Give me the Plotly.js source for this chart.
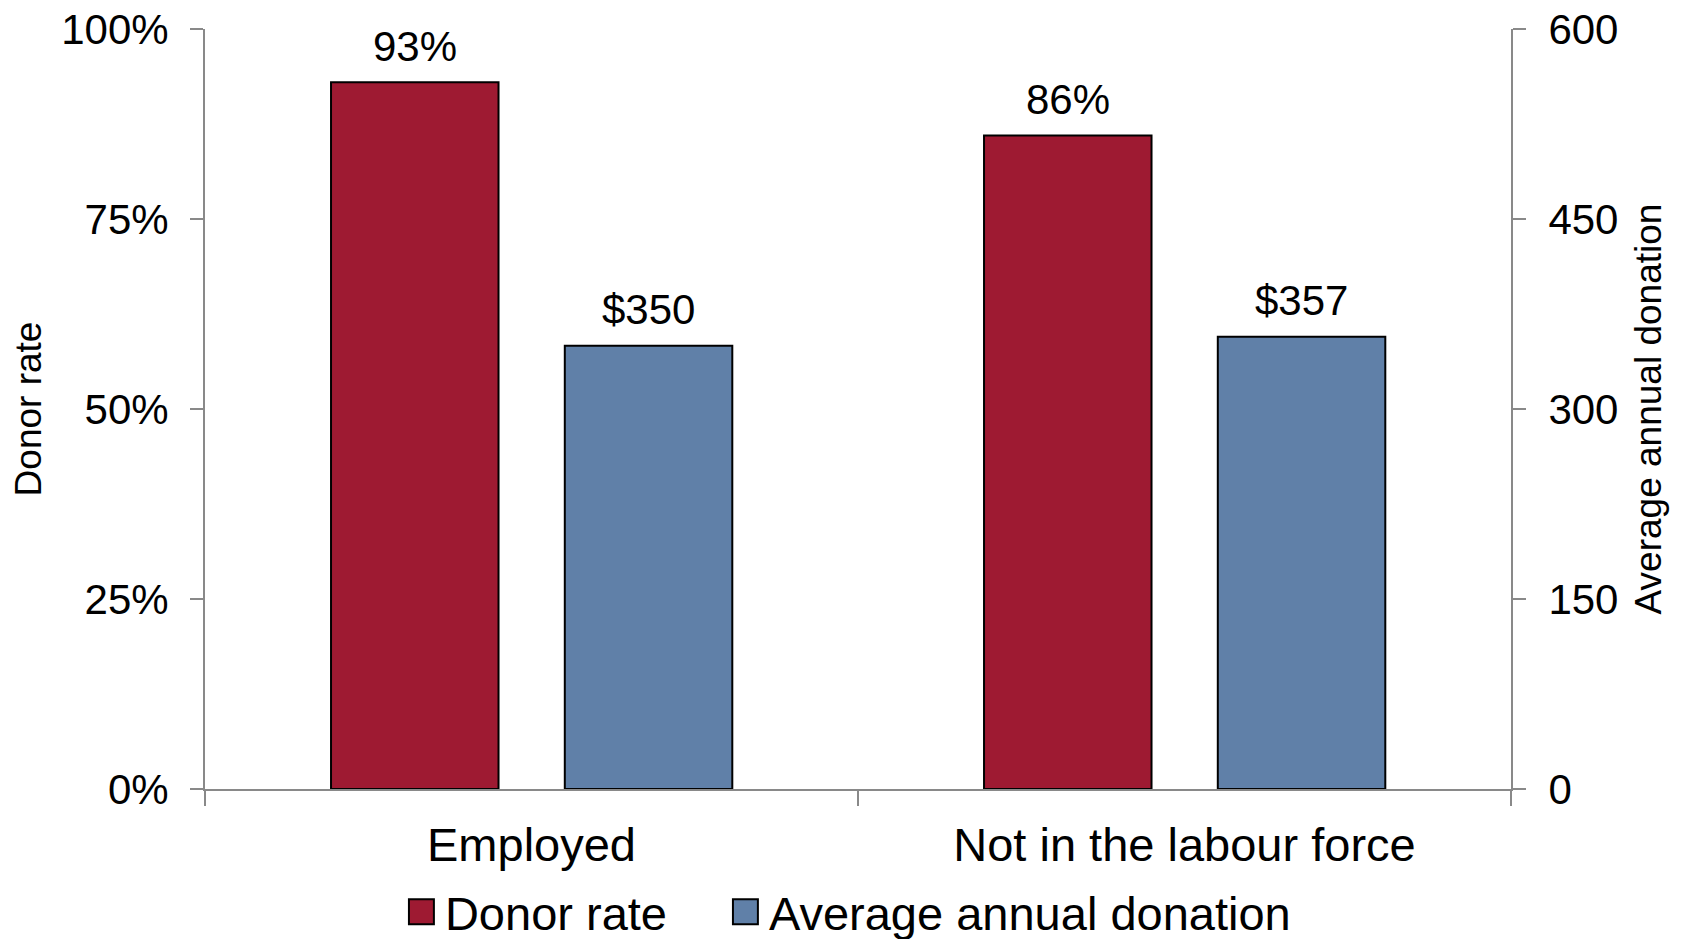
<!DOCTYPE html>
<html>
<head>
<meta charset="utf-8">
<script src="https://cdn.plot.ly/plotly-3.0.1.min.js"></script>
<style>html,body{margin:0;padding:0;background:#fff;}#chart{width:1683px;height:939px;}</style>
</head>
<body>
<div id="chart"></div>
<script>
const categories = ["Employed", "Not in the labour force"];
const donorRate = [0.93, 0.86];
const donorRateLabels = ["93%", "86%"];
const avgDonation = [350, 357];
const avgDonationLabels = ["$350", "$357"];
const leftTicks = [0, 0.25, 0.5, 0.75, 1.0];
const leftTickLabels = ["0%", "25%", "50%", "75%", "100%"];
const rightTicks = [0, 150, 300, 450, 600];
const rightTickLabels = ["0", "150", "300", "450", "600"];

const FONT = "Liberation Sans, Arial, sans-serif";
const AXIS_GREY = "#898989";
const RED = "#9E1A32";
const BLUE = "#6080A8";

const traces = [
  {
    type: "bar", name: "Donor rate", x: categories, y: donorRate,
    yaxis: "y", legendwidth: 279,
    marker: {color: RED, line: {color: "#000", width: 2}},
    width: 0.2565, offset: -0.307, hoverinfo: "skip"
  },
  {
    type: "bar", name: "Average annual donation", x: categories, y: avgDonation,
    yaxis: "y2", legendwidth: 545,
    marker: {color: BLUE, line: {color: "#000", width: 2}},
    width: 0.2565, offset: 0.051, hoverinfo: "skip"
  }
];

const annotations = [];
categories.forEach((c, i) => {
  annotations.push({
    x: c, y: donorRate[i], xref: "x", yref: "y", text: donorRateLabels[i],
    showarrow: false, xshift: -117, yshift: 36, yanchor: "middle",
    font: {size: 42, family: FONT, color: "#000"}
  });
  annotations.push({
    x: c, y: avgDonation[i], xref: "x", yref: "y2", text: avgDonationLabels[i],
    showarrow: false, xshift: 117, yshift: 36, yanchor: "middle",
    font: {size: 42, family: FONT, color: "#000"}
  });
});

const layout = {
  width: 1683, height: 939,
  margin: {l: 205, r: 172, t: 29, b: 150, pad: 0, autoexpand: false},
  paper_bgcolor: "#fff", plot_bgcolor: "#fff",
  font: {family: FONT, color: "#000"},
  showlegend: true,
  barmode: "overlay",
  annotations: annotations,
  xaxis: {
    type: "category", range: [-0.5, 1.5], tickson: "boundaries", automargin: false,
    ticks: "outside", ticklen: 15, tickwidth: 1.5, tickcolor: AXIS_GREY,
    showline: true, linecolor: AXIS_GREY, linewidth: 2,
    showgrid: false, zeroline: false,
    tickfont: {size: 47, family: FONT, color: "#000"},
    ticklabelstandoff: 14
  },
  yaxis: {
    range: [0, 1], tickvals: leftTicks, ticktext: leftTickLabels, automargin: false,
    ticks: "outside", ticklen: 13, tickwidth: 1.5, tickcolor: AXIS_GREY,
    showline: true, linecolor: AXIS_GREY, linewidth: 2,
    showgrid: false, zeroline: false,
    tickfont: {size: 42, family: FONT, color: "#000"},
    ticklabelstandoff: 13,
    title: {text: "Donor rate", font: {size: 37, family: FONT, color: "#000"}, standoff: 8}
  },
  yaxis2: {
    overlaying: "y", side: "right", automargin: false,
    range: [0, 600], tickvals: rightTicks, ticktext: rightTickLabels,
    ticks: "outside", ticklen: 13, tickwidth: 1.5, tickcolor: AXIS_GREY,
    showline: true, linecolor: AXIS_GREY, linewidth: 2,
    showgrid: false, zeroline: false,
    tickfont: {size: 42, family: FONT, color: "#000"},
    ticklabelstandoff: 14,
    title: {text: "Average annual donation", font: {size: 37, family: FONT, color: "#000"}, standoff: 18}
  },
  legend: {
    orientation: "h", x: 0.503, xanchor: "center", y: -0.162, yanchor: "middle",
    font: {size: 47, family: FONT, color: "#000"},
    bgcolor: "rgba(0,0,0,0)", itemwidth: 30, entrywidthmode: "pixels"
  }
};

Plotly.newPlot("chart", traces, layout, {staticPlot: true, displayModeBar: false}).then(gd => {
  // enlarge the legend swatches to match the reference's 25px squares
  gd.querySelectorAll(".legend .legendpoints path").forEach(p => {
    const t = p.getAttribute("transform") || "";
    p.setAttribute("transform", t + " translate(-3.5,0) scale(2.08)");
    p.style.vectorEffect = "non-scaling-stroke";
    p.style.strokeWidth = "2px";
    p.style.stroke = "#000";
  });
});
</script>
</body>
</html>
